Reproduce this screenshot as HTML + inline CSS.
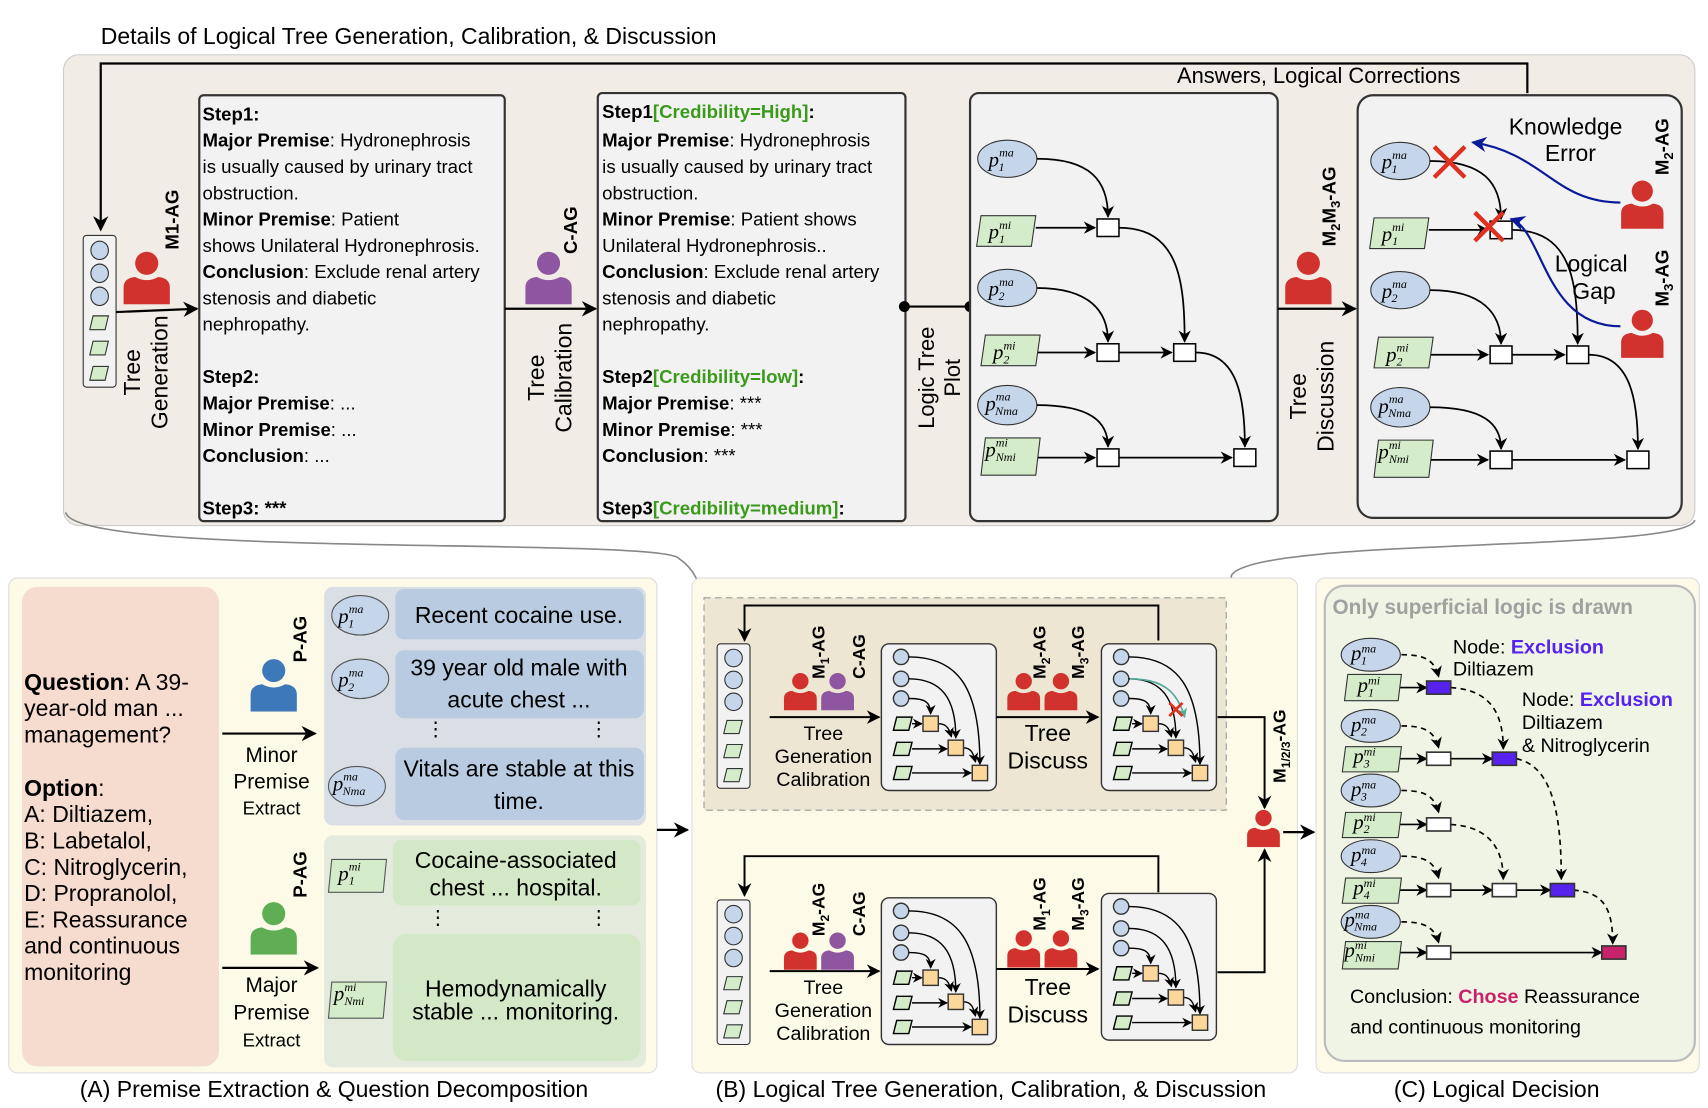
<!DOCTYPE html>
<html><head><meta charset="utf-8"><style>
html,body{margin:0;padding:0;background:#fff}
svg{display:block}
text{font-family:"Liberation Sans",sans-serif;fill:#000}
.m{font-family:"Liberation Serif",serif;font-style:italic;font-size:19px}
.s{font-size:11px}
.st{font-size:17px}
.b{font-weight:bold}
</style></head><body>
<svg width="1708" height="1108" viewBox="0 0 1560 1012" xmlns="http://www.w3.org/2000/svg">
<defs>
<marker id="a" viewBox="0 0 10 10" refX="9" refY="5" markerWidth="7" markerHeight="7" orient="auto-start-reverse"><path d="M0,0 L10,5 L0,10 L3,5Z" fill="#000"/></marker>
<marker id="ab" viewBox="0 0 10 10" refX="9" refY="5" markerWidth="7" markerHeight="7" orient="auto"><path d="M0,0 L10,5 L0,10 L3,5Z" fill="#0a1a9a"/></marker>
<marker id="ag" viewBox="0 0 10 10" refX="9" refY="5" markerWidth="6" markerHeight="6" orient="auto"><path d="M0,0 L10,5 L0,10 L3,5Z" fill="#5a9"/></marker>
<symbol id="p" viewBox="0 0 50 52"><circle cx="25" cy="13" r="11"/><path d="M3,52 L3,36 Q3,27 14,26 Q25,32 36,26 Q47,27 47,36 L47,52Z"/></symbol>
<g id="tree" fill="none" stroke="#000" stroke-width="1.6">
 <ellipse cx="34" cy="60" rx="27" ry="17" fill="#c6d6ea" stroke="#333" stroke-width="1"/>
 <path d="M10,112 L60,112 L56,140 L6,140Z" fill="#d5ecca" stroke="#333" stroke-width="1"/>
 <ellipse cx="34" cy="178" rx="27" ry="17" fill="#c6d6ea" stroke="#333" stroke-width="1"/>
 <path d="M14,221 L64,221 L60,249 L10,249Z" fill="#d5ecca" stroke="#333" stroke-width="1"/>
 <ellipse cx="34" cy="285" rx="27" ry="18" fill="#c6d6ea" stroke="#333" stroke-width="1"/>
 <path d="M14,315 L64,315 L60,349 L10,349Z" fill="#d5ecca" stroke="#333" stroke-width="1"/>
 <path d="M61,60 C110,60 126,80 126,113" marker-end="url(#a)"/>
 <path d="M60,123 L114,123" marker-end="url(#a)"/>
 <path d="M61,178 C110,178 126,200 126,227" marker-end="url(#a)"/>
 <path d="M62,237 L114,237" marker-end="url(#a)"/>
 <path d="M136,237 L184,237" marker-end="url(#a)"/>
 <path d="M136,123 C190,123 196,170 196,227" marker-end="url(#a)"/>
 <path d="M61,285 C110,285 126,300 126,323" marker-end="url(#a)"/>
 <path d="M62,333 L114,333" marker-end="url(#a)"/>
 <path d="M136,333 L239,333" marker-end="url(#a)"/>
 <path d="M206,237 C245,237 251,280 251,323" marker-end="url(#a)"/>
 <rect x="116" y="115" width="20" height="16" fill="#fff" stroke-width="1.4"/>
 <rect x="116" y="229" width="20" height="16" fill="#fff" stroke-width="1.4"/>
 <rect x="186" y="229" width="20" height="16" fill="#fff" stroke-width="1.4"/>
 <rect x="116" y="325" width="20" height="16" fill="#fff" stroke-width="1.4"/>
 <rect x="241" y="325" width="20" height="16" fill="#fff" stroke-width="1.4"/>
</g>
<g id="tl">
 <text class="m" x="17" y="67">p<tspan class="s" dy="-9">ma</tspan><tspan class="s" dx="-14" dy="13">1</tspan></text>
 <text class="m" x="17" y="133">p<tspan class="s" dy="-9">mi</tspan><tspan class="s" dx="-11" dy="13">1</tspan></text>
 <text class="m" x="17" y="185">p<tspan class="s" dy="-9">ma</tspan><tspan class="s" dx="-14" dy="13">2</tspan></text>
 <text class="m" x="21" y="243">p<tspan class="s" dy="-9">mi</tspan><tspan class="s" dx="-11" dy="13">2</tspan></text>
 <text class="m" x="14" y="290">p<tspan class="s" dy="-9">ma</tspan><tspan class="s" dx="-14" dy="13">Nma</tspan></text>
 <text class="m" x="14" y="332">p<tspan class="s" dy="-9">mi</tspan><tspan class="s" dx="-11" dy="13">Nmi</tspan></text>
</g>
<g id="stack">
 <rect x="0" y="0" width="30" height="132" rx="3" fill="#f2f2f2" stroke="#333"/>
 <circle cx="15" cy="13" r="8" fill="#c6d6ea" stroke="#333"/>
 <circle cx="15" cy="33" r="8" fill="#c6d6ea" stroke="#333"/>
 <circle cx="15" cy="53" r="8" fill="#c6d6ea" stroke="#333"/>
 <path d="M9,70 L23,70 L20,82 L6,82Z" fill="#d5ecca" stroke="#333"/>
 <path d="M9,92 L23,92 L20,104 L6,104Z" fill="#d5ecca" stroke="#333"/>
 <path d="M9,114 L23,114 L20,126 L6,126Z" fill="#d5ecca" stroke="#333"/>
</g>
<g id="mini" fill="none" stroke="#000" stroke-width="1.3">
 <rect x="0" y="0" width="105" height="134" rx="7" fill="#f2f2f2" stroke="#333"/>
 <circle cx="18" cy="12" r="7" fill="#c6d6ea" stroke="#333"/>
 <circle cx="18" cy="32" r="7" fill="#c6d6ea" stroke="#333"/>
 <circle cx="18" cy="50" r="7" fill="#c6d6ea" stroke="#333"/>
 <path d="M14,67 L28,67 L25,79 L11,79Z" fill="#d5ecca"/>
 <path d="M14,90 L28,90 L25,102 L11,102Z" fill="#d5ecca"/>
 <path d="M14,112 L28,112 L25,124 L11,124Z" fill="#d5ecca"/>
 <path d="M25,50 C38,50 45,52 45,64" marker-end="url(#a)"/>
 <path d="M25,32 C55,32 68,50 68,86" marker-end="url(#a)"/>
 <path d="M25,12 C70,12 90,40 90,110" marker-end="url(#a)"/>
 <path d="M28,73 L37,73" marker-end="url(#a)"/>
 <path d="M28,96 L60,96" marker-end="url(#a)"/>
 <path d="M28,118 L82,118" marker-end="url(#a)"/>
 <path d="M52,73 C60,73 62,78 64,85" marker-end="url(#a)"/>
 <path d="M75,95 C82,95 84,100 86,108" marker-end="url(#a)"/>
 <rect x="38" y="66" width="14" height="14" fill="#fbd79b" stroke="#333"/>
 <rect x="61" y="88" width="14" height="14" fill="#fbd79b" stroke="#333"/>
 <rect x="83" y="111" width="14" height="14" fill="#fbd79b" stroke="#333"/>
</g>
</defs>

<!-- TOP PANEL -->
<text x="92" y="40" font-size="21">Details of Logical Tree Generation, Calibration, &amp; Discussion</text>
<rect x="58" y="50" width="1490" height="430" rx="14" fill="#f1ece5" stroke="#ccc"/>
<path d="M1395,85 L1395,58 L92,58 L92,210" fill="none" stroke="#000" stroke-width="2" marker-end="url(#a)"/>
<text x="1075" y="76" font-size="20">Answers, Logical Corrections</text>
<use href="#stack" transform="translate(76,215) scale(1,1.05)"/>
<use href="#p" x="110" y="228" width="48" height="50" fill="#d2322d"/>
<text class="b" font-size="17" transform="translate(163,228) rotate(-90)">M1-AG</text>
<path d="M106,285 L180,282" stroke="#000" stroke-width="2" marker-end="url(#a)"/>
<text font-size="21" text-anchor="middle" transform="translate(128,340) rotate(-90)">Tree</text>
<text font-size="21" text-anchor="middle" transform="translate(153,340) rotate(-90)">Generation</text>

<rect x="182" y="87" width="279" height="389" rx="4" fill="#f2f2f2" stroke="#333" stroke-width="2"/>
<g class="st">
<text x="185" y="110" class="st b">Step1:</text>
<text x="185" y="134" class="st"><tspan class="b">Major Premise</tspan>: Hydronephrosis</text>
<text x="185" y="158" class="st">is usually caused by urinary tract</text>
<text x="185" y="182" class="st">obstruction.</text>
<text x="185" y="206" class="st"><tspan class="b">Minor Premise</tspan>: Patient</text>
<text x="185" y="230" class="st">shows Unilateral Hydronephrosis.</text>
<text x="185" y="254" class="st"><tspan class="b">Conclusion</tspan>: Exclude renal artery</text>
<text x="185" y="278" class="st">stenosis and diabetic</text>
<text x="185" y="302" class="st">nephropathy.</text>
<text x="185" y="350" class="st b">Step2:</text>
<text x="185" y="374" class="st"><tspan class="b">Major Premise</tspan>: ...</text>
<text x="185" y="398" class="st"><tspan class="b">Minor Premise</tspan>: ...</text>
<text x="185" y="422" class="st"><tspan class="b">Conclusion</tspan>: ...</text>
<text x="185" y="470" class="st b">Step3:  ***</text>
</g>

<use href="#p" x="477" y="228" width="48" height="50" fill="#8e55a0"/>
<text class="b" font-size="17" transform="translate(527,232) rotate(-90)">C-AG</text>
<path d="M461,282 L544,282" stroke="#000" stroke-width="2" marker-end="url(#a)"/>
<text font-size="21" text-anchor="middle" transform="translate(497,345) rotate(-90)">Tree</text>
<text font-size="21" text-anchor="middle" transform="translate(522,345) rotate(-90)">Calibration</text>

<rect x="546" y="85" width="281" height="391" rx="4" fill="#f2f2f2" stroke="#333" stroke-width="2"/>
<text x="550" y="108" class="st b">Step1<tspan fill="#3a9a1a">[Credibility=High]</tspan>:</text>
<text x="550" y="134" class="st"><tspan class="b">Major Premise</tspan>: Hydronephrosis</text>
<text x="550" y="158" class="st">is usually caused by urinary tract</text>
<text x="550" y="182" class="st">obstruction.</text>
<text x="550" y="206" class="st"><tspan class="b">Minor Premise</tspan>: Patient shows</text>
<text x="550" y="230" class="st">Unilateral Hydronephrosis..</text>
<text x="550" y="254" class="st"><tspan class="b">Conclusion</tspan>: Exclude renal artery</text>
<text x="550" y="278" class="st">stenosis and diabetic</text>
<text x="550" y="302" class="st">nephropathy.</text>
<text x="550" y="350" class="st b">Step2<tspan fill="#3a9a1a">[Credibility=low]</tspan>:</text>
<text x="550" y="374" class="st"><tspan class="b">Major Premise</tspan>: ***</text>
<text x="550" y="398" class="st"><tspan class="b">Minor Premise</tspan>: ***</text>
<text x="550" y="422" class="st"><tspan class="b">Conclusion</tspan>: ***</text>
<text x="550" y="470" class="st b">Step3<tspan fill="#3a9a1a">[Credibility=medium]</tspan>:</text>

<path d="M826,280 L886,280" stroke="#000" stroke-width="2"/>
<circle cx="826" cy="280" r="5"/><circle cx="886" cy="280" r="5"/>
<text font-size="20" text-anchor="middle" transform="translate(853,345) rotate(-90)">Logic Tree</text>
<text font-size="20" text-anchor="middle" transform="translate(877,345) rotate(-90)">Plot</text>

<rect x="886" y="85" width="281" height="391" rx="8" fill="#f2f2f2" stroke="#333" stroke-width="2"/>
<use href="#tree" transform="translate(886,85)"/>
<use href="#tl" transform="translate(886,85)"/>

<use href="#p" x="1171" y="228" width="48" height="50" fill="#d2322d"/>
<text class="b" font-size="17" transform="translate(1220,225) rotate(-90)">M<tspan font-size="12" dy="4">2</tspan><tspan dy="-4">M</tspan><tspan font-size="12" dy="4">3</tspan><tspan dy="-4">-AG</tspan></text>
<path d="M1167,282 L1238,282" stroke="#000" stroke-width="2" marker-end="url(#a)"/>
<text font-size="21" text-anchor="middle" transform="translate(1193,362) rotate(-90)">Tree</text>
<text font-size="21" text-anchor="middle" transform="translate(1218,362) rotate(-90)">Discussion</text>

<rect x="1240" y="87" width="296" height="386" rx="14" fill="#f2f2f2" stroke="#333" stroke-width="2"/>
<use href="#tree" transform="translate(1245,87)"/>
<use href="#tl" transform="translate(1245,87)"/>
<g stroke="#e03020" stroke-width="4"><path d="M1310,134 L1338,162 M1338,134 L1310,162"/><path d="M1347,194 L1373,220 M1373,194 L1347,220"/></g>
<text x="1378" y="123" font-size="21">Knowledge</text><text x="1411" y="147" font-size="21">Error</text>
<text x="1420" y="248" font-size="21">Logical</text><text x="1436" y="273" font-size="21">Gap</text>
<use href="#p" x="1478" y="162" width="44" height="48" fill="#d2322d"/>
<use href="#p" x="1478" y="280" width="44" height="48" fill="#d2322d"/>
<text class="b" font-size="17" transform="translate(1524,160) rotate(-90)">M<tspan font-size="12" dy="4">2</tspan><tspan dy="-4">-AG</tspan></text>
<text class="b" font-size="17" transform="translate(1524,280) rotate(-90)">M<tspan font-size="12" dy="4">3</tspan><tspan dy="-4">-AG</tspan></text>
<path d="M1480,185 C1420,185 1410,140 1345,130" fill="none" stroke="#0a1a9a" stroke-width="2" marker-end="url(#ab)"/>
<path d="M1480,298 C1410,298 1410,210 1380,200" fill="none" stroke="#0a1a9a" stroke-width="2" marker-end="url(#ab)"/>

<!-- connectors -->
<path d="M60,468 C70,510 600,490 620,510 C635,520 640,535 640,546" fill="none" stroke="#888" stroke-width="1.5"/>
<path d="M1548,475 C1540,505 1150,490 1125,525 L1120,546" fill="none" stroke="#888" stroke-width="1.5"/>

<!-- PANEL A -->
<rect x="8" y="528" width="592" height="452" rx="8" fill="#fdfbe8" stroke="#ddd"/>
<rect x="20" y="536" width="180" height="438" rx="14" fill="#f6dbcf"/>
<g font-size="21">
<text x="22" y="630"><tspan class="b">Question</tspan>: A 39-</text>
<text x="22" y="654">year-old man ...</text>
<text x="22" y="678">management?</text>
<text x="22" y="727" class="b">Option<tspan font-weight="normal">:</tspan></text>
<text x="22" y="751">A: Diltiazem,</text>
<text x="22" y="775">B: Labetalol,</text>
<text x="22" y="799">C: Nitroglycerin,</text>
<text x="22" y="823">D: Propranolol,</text>
<text x="22" y="847">E: Reassurance</text>
<text x="22" y="871">and continuous</text>
<text x="22" y="895">monitoring</text>
</g>
<use href="#p" x="226" y="600" width="48" height="50" fill="#3d79b8"/>
<text class="b" font-size="17" transform="translate(280,605) rotate(-90)">P-AG</text>
<path d="M203,670 L288,670" stroke="#000" stroke-width="2" marker-end="url(#a)"/>
<text x="248" y="696" font-size="19" text-anchor="middle">Minor</text>
<text x="248" y="720" font-size="19" text-anchor="middle">Premise</text>
<text x="248" y="744" font-size="17" text-anchor="middle">Extract</text>
<use href="#p" x="226" y="822" width="48" height="50" fill="#5fae54"/>
<text class="b" font-size="17" transform="translate(280,820) rotate(-90)">P-AG</text>
<path d="M203,884 L290,884" stroke="#000" stroke-width="2" marker-end="url(#a)"/>
<text x="248" y="906" font-size="19" text-anchor="middle">Major</text>
<text x="248" y="931" font-size="19" text-anchor="middle">Premise</text>
<text x="248" y="956" font-size="17" text-anchor="middle">Extract</text>

<rect x="296" y="536" width="294" height="218" rx="8" fill="#d9dfe5"/>
<ellipse cx="329" cy="562" rx="26" ry="18" fill="#c6d6ea" stroke="#555"/>
<text class="m" x="309" y="569">p<tspan class="s" dy="-9">ma</tspan><tspan class="s" dx="-14" dy="13">1</tspan></text>
<rect x="361" y="538" width="227" height="46" rx="8" fill="#b8cbe0"/>
<text x="474" y="569" font-size="21" text-anchor="middle">Recent cocaine use.</text>
<ellipse cx="329" cy="620" rx="26" ry="18" fill="#c6d6ea" stroke="#555"/>
<text class="m" x="309" y="627">p<tspan class="s" dy="-9">ma</tspan><tspan class="s" dx="-14" dy="13">2</tspan></text>
<rect x="361" y="594" width="227" height="62" rx="8" fill="#b8cbe0"/>
<text x="474" y="617" font-size="21" text-anchor="middle">39 year old male with</text>
<text x="474" y="646" font-size="21" text-anchor="middle">acute chest ...</text>
<text x="398" y="672" font-size="18" text-anchor="middle">⋮</text><text x="547" y="672" font-size="18" text-anchor="middle">⋮</text>
<ellipse cx="326" cy="718" rx="26" ry="18" fill="#c6d6ea" stroke="#555"/>
<text class="m" x="304" y="722">p<tspan class="s" dy="-9">ma</tspan><tspan class="s" dx="-14" dy="13">Nma</tspan></text>
<rect x="361" y="683" width="227" height="66" rx="8" fill="#b8cbe0"/>
<text x="474" y="709" font-size="21" text-anchor="middle">Vitals are stable at this</text>
<text x="474" y="739" font-size="21" text-anchor="middle">time.</text>

<rect x="296" y="763" width="294" height="212" rx="8" fill="#e5ebdc"/>
<path d="M303,785 L353,785 L350,815 L300,815Z" fill="#d5ecca" stroke="#555"/>
<text class="m" x="309" y="804">p<tspan class="s" dy="-9">mi</tspan><tspan class="s" dx="-11" dy="13">1</tspan></text>
<rect x="359" y="767" width="226" height="60" rx="8" fill="#d2e8c6"/>
<text x="471" y="793" font-size="21" text-anchor="middle">Cocaine-associated</text>
<text x="471" y="818" font-size="21" text-anchor="middle">chest ... hospital.</text>
<text x="400" y="844" font-size="18" text-anchor="middle">⋮</text><text x="547" y="844" font-size="18" text-anchor="middle">⋮</text>
<path d="M303,897 L353,897 L350,930 L300,930Z" fill="#d5ecca" stroke="#555"/>
<text class="m" x="305" y="914">p<tspan class="s" dy="-9">mi</tspan><tspan class="s" dx="-11" dy="13">Nmi</tspan></text>
<rect x="359" y="853" width="226" height="116" rx="12" fill="#d2e8c6"/>
<text x="471" y="910" font-size="21" text-anchor="middle">Hemodynamically</text>
<text x="471" y="931" font-size="21" text-anchor="middle">stable ... monitoring.</text>
<text x="305" y="1002" font-size="21" text-anchor="middle">(A) Premise Extraction &amp; Question Decomposition</text>

<path d="M600,758 L628,758" stroke="#000" stroke-width="2" marker-end="url(#a)"/>

<!-- PANEL B -->
<rect x="632" y="528" width="553" height="452" rx="8" fill="#fdfbe8" stroke="#ddd"/>
<rect x="643" y="546" width="477" height="194" fill="#ede6d3" stroke="#999" stroke-dasharray="6,4"/>
<path d="M1058,585 L1058,553 L680,553 L680,585" fill="none" stroke="#000" stroke-width="1.8" marker-end="url(#a)"/>
<use href="#stack" transform="translate(655,588)"/>
<use href="#p" x="714" y="613" width="34" height="36" fill="#d2322d"/>
<use href="#p" x="748" y="613" width="34" height="36" fill="#8e55a0"/>
<text class="b" font-size="16" transform="translate(753,620) rotate(-90)">M<tspan font-size="11" dy="4">1</tspan><tspan dy="-4">-AG</tspan></text>
<text class="b" font-size="16" transform="translate(790,620) rotate(-90)">C-AG</text>
<path d="M703,655 L803,655" stroke="#000" stroke-width="1.8" marker-end="url(#a)"/>
<text x="752" y="676" font-size="18" text-anchor="middle">Tree</text>
<text x="752" y="697" font-size="18" text-anchor="middle">Generation</text>
<text x="752" y="718" font-size="18" text-anchor="middle">Calibration</text>
<use href="#mini" transform="translate(805,588)"/>
<use href="#p" x="918" y="613" width="34" height="36" fill="#d2322d"/>
<use href="#p" x="952" y="613" width="34" height="36" fill="#d2322d"/>
<text class="b" font-size="16" transform="translate(955,620) rotate(-90)">M<tspan font-size="11" dy="4">2</tspan><tspan dy="-4">-AG</tspan></text>
<text class="b" font-size="16" transform="translate(990,620) rotate(-90)">M<tspan font-size="11" dy="4">3</tspan><tspan dy="-4">-AG</tspan></text>
<path d="M910,655 L1003,655" stroke="#000" stroke-width="1.8" marker-end="url(#a)"/>
<text x="957" y="677" font-size="21" text-anchor="middle">Tree</text>
<text x="957" y="702" font-size="21" text-anchor="middle">Discuss</text>
<use href="#mini" transform="translate(1006,588)"/>
<path d="M1032,620 C1060,620 1075,630 1082,655" fill="none" stroke="#5a9" stroke-width="1.5" marker-end="url(#ag)"/>
<path d="M1068,642 L1080,654 M1080,642 L1068,654" stroke="#e03020" stroke-width="2.5"/>
<path d="M1112,655 L1155,655 L1155,738" fill="none" stroke="#000" stroke-width="1.8" marker-end="url(#a)"/>

<path d="M1058,815 L1058,782 L680,782 L680,818" fill="none" stroke="#000" stroke-width="1.8" marker-end="url(#a)"/>
<use href="#stack" transform="translate(655,822)"/>
<use href="#p" x="714" y="850" width="34" height="36" fill="#d2322d"/>
<use href="#p" x="748" y="850" width="34" height="36" fill="#8e55a0"/>
<text class="b" font-size="16" transform="translate(753,855) rotate(-90)">M<tspan font-size="11" dy="4">2</tspan><tspan dy="-4">-AG</tspan></text>
<text class="b" font-size="16" transform="translate(790,855) rotate(-90)">C-AG</text>
<path d="M703,887 L803,887" stroke="#000" stroke-width="1.8" marker-end="url(#a)"/>
<text x="752" y="908" font-size="18" text-anchor="middle">Tree</text>
<text x="752" y="929" font-size="18" text-anchor="middle">Generation</text>
<text x="752" y="950" font-size="18" text-anchor="middle">Calibration</text>
<use href="#mini" transform="translate(805,820)"/>
<use href="#p" x="918" y="848" width="34" height="36" fill="#d2322d"/>
<use href="#p" x="952" y="848" width="34" height="36" fill="#d2322d"/>
<text class="b" font-size="16" transform="translate(955,850) rotate(-90)">M<tspan font-size="11" dy="4">1</tspan><tspan dy="-4">-AG</tspan></text>
<text class="b" font-size="16" transform="translate(990,850) rotate(-90)">M<tspan font-size="11" dy="4">3</tspan><tspan dy="-4">-AG</tspan></text>
<path d="M910,885 L1003,885" stroke="#000" stroke-width="1.8" marker-end="url(#a)"/>
<text x="957" y="909" font-size="21" text-anchor="middle">Tree</text>
<text x="957" y="934" font-size="21" text-anchor="middle">Discuss</text>
<use href="#mini" transform="translate(1006,816)"/>
<path d="M1112,888 L1155,888 L1155,776" fill="none" stroke="#000" stroke-width="1.8" marker-end="url(#a)"/>
<use href="#p" x="1137" y="738" width="34" height="36" fill="#d2322d"/>
<text class="b" font-size="16" transform="translate(1174,715) rotate(-90)">M<tspan font-size="11" dy="4">1/2/3</tspan><tspan dy="-4">-AG</tspan></text>
<path d="M1172,760 L1200,760" stroke="#000" stroke-width="2" marker-end="url(#a)"/>
<text x="905" y="1002" font-size="21" text-anchor="middle">(B) Logical Tree Generation, Calibration, &amp; Discussion</text>

<!-- PANEL C -->
<rect x="1202" y="528" width="350" height="452" rx="8" fill="#fdfbe8" stroke="#ddd"/>
<rect x="1210" y="535" width="338" height="434" rx="18" fill="#eff4e4" stroke="#bbb" stroke-width="2"/>
<text x="1217" y="561" font-size="19" font-weight="bold" fill="#a0a0a0" style="fill:#a0a0a0">Only superficial logic is drawn</text>
<g fill="none" stroke="#000" stroke-width="1.5">
<g stroke-dasharray="5,4">
<path d="M1280,598 C1300,598 1310,602 1314,618" marker-end="url(#a)"/>
<path d="M1280,663 C1300,663 1310,667 1314,683" marker-end="url(#a)"/>
<path d="M1280,722 C1300,722 1310,726 1314,742" marker-end="url(#a)"/>
<path d="M1280,782 C1300,782 1310,786 1314,802" marker-end="url(#a)"/>
<path d="M1280,842 C1300,842 1310,846 1314,861" marker-end="url(#a)"/>
<path d="M1325,628 C1360,630 1373,650 1373,684" marker-end="url(#a)"/>
<path d="M1385,693 C1420,700 1426,750 1426,803" marker-end="url(#a)"/>
<path d="M1325,753 C1360,755 1373,775 1373,803" marker-end="url(#a)"/>
<path d="M1437,813 C1465,815 1473,830 1473,862" marker-end="url(#a)"/>
</g>
<path d="M1278,628 L1303,628" marker-end="url(#a)"/>
<path d="M1278,693 L1303,693" marker-end="url(#a)"/>
<path d="M1325,693 L1363,693" marker-end="url(#a)"/>
<path d="M1278,753 L1303,753" marker-end="url(#a)"/>
<path d="M1278,813 L1303,813" marker-end="url(#a)"/>
<path d="M1325,813 L1363,813" marker-end="url(#a)"/>
<path d="M1385,813 L1416,813" marker-end="url(#a)"/>
<path d="M1278,870 L1303,870" marker-end="url(#a)"/>
<path d="M1325,870 L1463,870" marker-end="url(#a)"/>
</g>
<g stroke="#333">
<ellipse cx="1252" cy="598" rx="27" ry="15" fill="#c6d6ea"/>
<path d="M1231,616 L1280,616 L1277,640 L1228,640Z" fill="#d5ecca"/>
<ellipse cx="1252" cy="663" rx="27" ry="15" fill="#c6d6ea"/>
<path d="M1229,682 L1280,682 L1277,705 L1226,705Z" fill="#d5ecca"/>
<ellipse cx="1252" cy="722" rx="27" ry="15" fill="#c6d6ea"/>
<path d="M1229,742 L1280,742 L1277,765 L1226,765Z" fill="#d5ecca"/>
<ellipse cx="1252" cy="782" rx="27" ry="15" fill="#c6d6ea"/>
<path d="M1229,802 L1280,802 L1277,825 L1226,825Z" fill="#d5ecca"/>
<ellipse cx="1252" cy="842" rx="27" ry="15" fill="#c6d6ea"/>
<path d="M1229,860 L1280,860 L1277,885 L1226,885Z" fill="#d5ecca"/>
</g>
<g stroke="#333" stroke-width="1.5">
<rect x="1303" y="622" width="22" height="12" fill="#5522ee"/>
<rect x="1303" y="687" width="22" height="12" fill="#fff"/>
<rect x="1363" y="687" width="22" height="12" fill="#5522ee"/>
<rect x="1303" y="747" width="22" height="12" fill="#fff"/>
<rect x="1303" y="807" width="22" height="12" fill="#fff"/>
<rect x="1363" y="807" width="22" height="12" fill="#fff"/>
<rect x="1416" y="807" width="22" height="12" fill="#5522ee"/>
<rect x="1303" y="864" width="22" height="12" fill="#fff"/>
<rect x="1463" y="864" width="22" height="12" fill="#c8236a"/>
</g>
<g class="m" font-size="16">
<text class="m" x="1234" y="603" font-size="16">p<tspan class="s" dy="-7">ma</tspan><tspan class="s" dx="-14" dy="11">1</tspan></text>
<text class="m" x="1240" y="632" font-size="16">p<tspan class="s" dy="-7">mi</tspan><tspan class="s" dx="-11" dy="11">1</tspan></text>
<text class="m" x="1234" y="668" font-size="16">p<tspan class="s" dy="-7">ma</tspan><tspan class="s" dx="-14" dy="11">2</tspan></text>
<text class="m" x="1236" y="697" font-size="16">p<tspan class="s" dy="-7">mi</tspan><tspan class="s" dx="-11" dy="11">3</tspan></text>
<text class="m" x="1234" y="727" font-size="16">p<tspan class="s" dy="-7">ma</tspan><tspan class="s" dx="-14" dy="11">3</tspan></text>
<text class="m" x="1236" y="757" font-size="16">p<tspan class="s" dy="-7">mi</tspan><tspan class="s" dx="-11" dy="11">2</tspan></text>
<text class="m" x="1234" y="787" font-size="16">p<tspan class="s" dy="-7">ma</tspan><tspan class="s" dx="-14" dy="11">4</tspan></text>
<text class="m" x="1236" y="817" font-size="16">p<tspan class="s" dy="-7">mi</tspan><tspan class="s" dx="-11" dy="11">4</tspan></text>
<text class="m" x="1228" y="846" font-size="16">p<tspan class="s" dy="-7">ma</tspan><tspan class="s" dx="-14" dy="11">Nma</tspan></text>
<text class="m" x="1228" y="874" font-size="16">p<tspan class="s" dy="-7">mi</tspan><tspan class="s" dx="-11" dy="11">Nmi</tspan></text>
</g>
<text x="1327" y="597" font-size="18">Node:  <tspan font-weight="bold" style="fill:#5522ee">Exclusion</tspan></text>
<text x="1327" y="617" font-size="18">Diltiazem</text>
<text x="1390" y="645" font-size="18">Node: <tspan font-weight="bold" style="fill:#5522ee">Exclusion</tspan></text>
<text x="1390" y="666" font-size="18">Diltiazem</text>
<text x="1390" y="687" font-size="18">&amp; Nitroglycerin</text>
<text x="1233" y="916" font-size="18">Conclusion: <tspan font-weight="bold" style="fill:#c8236a">Chose</tspan> Reassurance</text>
<text x="1233" y="944" font-size="18">and continuous monitoring</text>
<text x="1367" y="1002" font-size="21" text-anchor="middle">(C) Logical Decision</text>
</svg>
</body></html>
